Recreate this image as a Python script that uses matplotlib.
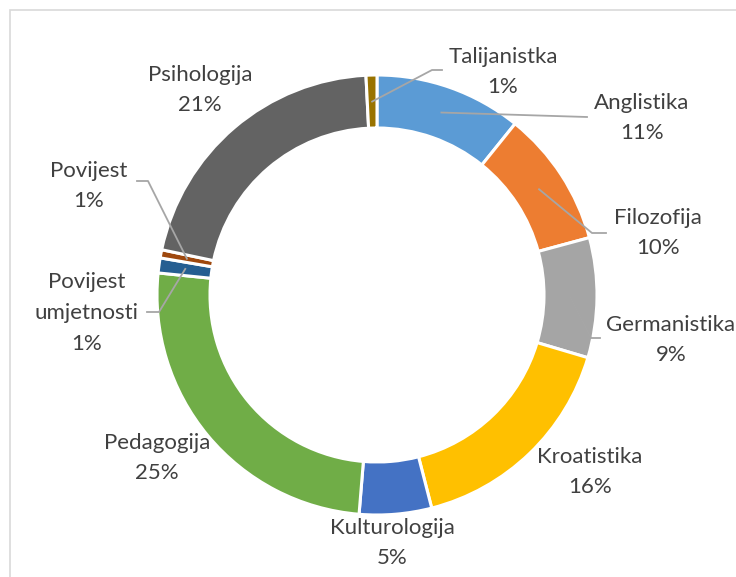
import numpy as np
import matplotlib.pyplot as plt
from matplotlib.patches import Rectangle

# data (share of students per study programme, %)
categories = ['Anglistika', 'Filozofija', 'Germanistika', 'Kroatistika',
              'Kulturologija', 'Pedagogija', 'Povijest\numjetnosti',
              'Povijest', 'Psihologija', 'Talijanistka']
values = [10.8, 10.0, 8.8, 16.4, 5.3, 25.3, 1.1, 0.6, 20.9, 0.8]
colors = ['#5B9BD5', '#ED7D31', '#A5A5A5', '#FFC000', '#4472C4',
          '#70AD47', '#255E91', '#9E480E', '#636363', '#997300']

W, H = 736, 577
CX, CY = 377, H - 295
R_OUT, R_IN = 220, 167

# label centres (pixel coords, y from top) and leader elbows
label_pos = {
    'Anglistika': (642, 118),
    'Filozofija': (658, 233),
    'Germanistika': (671, 340),
    'Kroatistika': (590, 472),
    'Kulturologija': (392, 543),
    'Pedagogija': (157, 458),
    'Povijest\numjetnosti': (87, 313),
    'Povijest': (89, 186),
    'Psihologija': (200, 90),
    'Talijanistka': (503, 72),
}
leaders = {
    'Anglistika': [(587, 117)],
    'Filozofija': [(592, 233), (606, 233)],
    'Germanistika': [(591, 338), (600, 338)],
    'Povijest\numjetnosti': [(159, 312), (147, 312)],
    'Povijest': [(148, 181), (137, 181)],
    'Talijanistka': [(432, 70), (442, 70)],
}

fig = plt.figure(figsize=(W / 100, H / 100), dpi=100)
ax = fig.add_axes([0, 0, 1, 1])
ax.set_xlim(0, W)
ax.set_ylim(0, H)
ax.set_aspect('equal')
ax.axis('off')

# chart border
ax.add_patch(Rectangle((9.5, -20), W + 40, H - 9.5 + 20, fill=False,
                       edgecolor='#D9D9D9', linewidth=1.2))

wedges, _ = ax.pie(values, colors=colors, startangle=90, counterclock=False,
                   radius=R_OUT, center=(CX, CY),
                   wedgeprops=dict(width=R_OUT - R_IN, edgecolor='white',
                                   linewidth=2.2))
ax.set_xlim(0, W)
ax.set_ylim(0, H)

r_mid = (R_OUT + R_IN) / 2
for w, name, v in zip(wedges, categories, values):
    lx, ly = label_pos[name]
    ax.text(lx, H - ly, f'{name}\n{round(v)}%', ha='center', va='center',
            fontsize=16, color='#404040', linespacing=1.68,
            family=['Lato', 'DejaVu Sans'])
    if name in leaders:
        a = np.deg2rad((w.theta1 + w.theta2) / 2)
        pts = [(CX + r_mid * np.cos(a), CY + r_mid * np.sin(a))]
        pts += [(x, H - y) for x, y in leaders[name]]
        xs, ys = zip(*pts)
        ax.plot(xs, ys, color='#A6A6A6', linewidth=1.3, zorder=5)

fig.savefig('out.png', dpi=100, facecolor='white')
